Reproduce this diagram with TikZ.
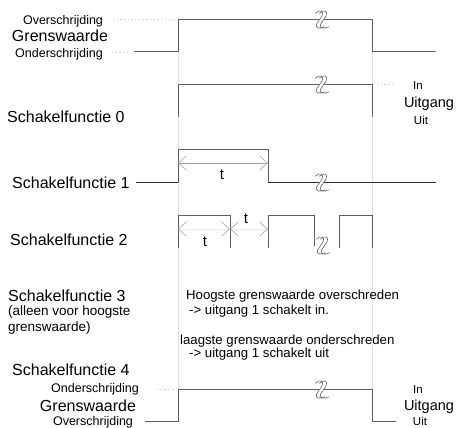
\documentclass[tikz,border=0pt]{standalone}
\usepackage{fontspec}
\setmainfont{Liberation Sans}
\usetikzlibrary{arrows.meta}
\definecolor{sig}{RGB}{95,95,95}
\definecolor{sigdark}{RGB}{45,45,45}
\definecolor{guide}{RGB}{200,200,200}
\definecolor{dimc}{RGB}{165,165,165}
\definecolor{dimlight}{RGB}{235,235,235}
\tikzset{
  sigline/.style={draw=sig, line width=1pt},
  guideline/.style={draw=guide, line width=0.8pt, dash pattern=on 1pt off 1pt},
  dotline/.style={draw=guide, line width=1pt, dash pattern=on 1.2pt off 2.5pt},
  dimline/.style={draw=dimc, line width=0.6pt, {Straight Barb[length=8pt,width=14pt]}-{Straight Barb[length=8pt,width=14pt]}},
  dimtips/.style={draw=dimlight, line width=0.6pt, {Straight Barb[length=8pt,width=14pt,color=dimc]}-{Straight Barb[length=8pt,width=14pt,color=dimc]}},
  big/.style={font=\fontsize{16}{18}\selectfont, inner sep=0pt},
  mid/.style={font=\fontsize{12.5}{14}\selectfont, inner sep=0pt},
  note/.style={font=\fontsize{13.2}{15}\selectfont, inner sep=0pt, anchor=base west},
  paren/.style={font=\fontsize{13.5}{15}\selectfont, inner sep=0pt, anchor=base west},
  uit/.style={font=\fontsize{14.5}{16}\selectfont, inner sep=0pt, anchor=base},
  inuit/.style={font=\fontsize{11.5}{13}\selectfont, inner sep=0pt, anchor=base},
  tlab/.style={font=\fontsize{15}{17}\selectfont, inner sep=0pt},
  pics/brk/.style={code={
    \begin{scope}[scale=1.35]
    \draw[white, line width=4pt] (-3.5,-5) .. controls (-0.5,-8) and (3.5,-7) .. (1.5,-3) -- (-2.5,3) .. controls (-4.5,6) and (0.5,7) .. (3.5,5);
    \draw[sig, line width=0.6pt] (-5,-5) .. controls (-2,-8) and (2,-7) .. (0,-3) -- (-4,3) .. controls (-6,6) and (-1,7) .. (2,5);
    \draw[sig, line width=0.6pt] (-2,-5) .. controls (1,-8) and (5,-7) .. (3,-3) -- (-1,3) .. controls (-3,6) and (2,7) .. (5,5);
    \end{scope}
  }}
}
\begin{document}
\begin{tikzpicture}[x=1pt, y=-1pt]
\useasboundingbox (0,0) rectangle (459,428);
\fill[white] (0,0) rectangle (459,428);

% guide lines
\draw[guideline] (178,52) -- (178,390);
\draw[guideline] (372,52) -- (372,390);

% ---- top: Grenswaarde
\node[mid, anchor=base] (ov1) at (63,24.5) {Overschrijding};
\node[big, anchor=base] (gw1) at (60,41.8) {Grenswaarde};
\node[mid, anchor=base] (on1) at (59,57.5) {Onderschrijding};
\draw[dotline] (113,20) -- (175,20);
\draw[dotline] (112,53) -- (127,53);
\draw[sigline] (134,52) -- (178,52) -- (178,20) -- (372,20) -- (372,52) -- (436,52);
\pic at (322,20) {brk};

% ---- Schakelfunctie 0
\node[big, anchor=base west] (s0) at (7,122.8) {Schakelfunctie 0};
\draw[sigline] (178,117) -- (178,85) -- (372,85) -- (372,117);
\pic at (322,85) {brk};
\draw[dotline] (377,85) -- (392,85);
\node[inuit] (in1) at (418,89.1) {In};
\node[uit] (ug1) at (429,107.2) {Uitgang};
\node[inuit] (ui1) at (421,124.1) {Uit};

% ---- Schakelfunctie 1
\node[big, anchor=base west] (s1) at (12,188.8) {Schakelfunctie 1};
\draw[sigline, draw=sigdark] (136,183) -- (178,183);
\draw[sigline] (178,183) -- (178,150) -- (268,150) -- (268,183);
\draw[sigline, draw=sigdark] (268,183) -- (436,183);
\pic at (322,183) {brk};
\draw[dimline] (178,163) -- (268,163);
\node[tlab] (t1) at (222,175) {t};

% ---- Schakelfunctie 2
\node[big, anchor=base west] (s2) at (10,245.8) {Schakelfunctie 2};
\draw[sigline] (178,248) -- (178,216) -- (230,216) -- (230,248);
\draw[sigline] (268,248) -- (268,216) -- (314,216) -- (314,246);
\draw[sigline] (339,248) -- (339,216) -- (372,216) -- (372,248);
\pic at (323,246) {brk};
\draw[dimtips] (178,229) -- (230,229);
\draw[dimtips] (230,229) -- (268,229);
\node[tlab] (t2) at (205,242) {t};
\node[tlab] (t3) at (246,219) {t};

% ---- Schakelfunctie 3
\node[big, anchor=base west] (s3) at (8,301.8) {Schakelfunctie 3};
\node[paren] (s3a) at (8,315.9) {(alleen voor hoogste};
\node[paren] (s3b) at (8,331.9) {grenswaarde)};
\node[note] (n1) at (186,299.8) {Hoogste grenswaarde overschreden};
\node[note] (n2) at (189,314.8) {-> uitgang 1 schakelt in.};
\node[note] (n3) at (180,344.8) {laagste grenswaarde onderschreden};
\node[note] (n4) at (189,357.8) {-> uitgang 1 schakelt uit};

% ---- Schakelfunctie 4
\node[big, anchor=base west] (s4) at (12,375.8) {Schakelfunctie 4};
\node[mid, anchor=base] (on2) at (95,392.5) {Onderschrijding};
\node[big, anchor=base] (gw2) at (88,411.5) {Grenswaarde};
\node[mid, anchor=base] (ov2) at (93,425) {Overschrijding};
\draw[dotline] (157,390) -- (173,390);
\draw[sigline] (145,422) -- (178,422) -- (178,390) -- (372,390) -- (372,422) -- (396,422);
\pic at (322,390) {brk};
\node[inuit] (in2) at (418,394) {In};
\node[uit] (ug2) at (429,410) {Uitgang};
\node[inuit] (ui2) at (420,425) {Uit};
\end{tikzpicture}
\end{document}
